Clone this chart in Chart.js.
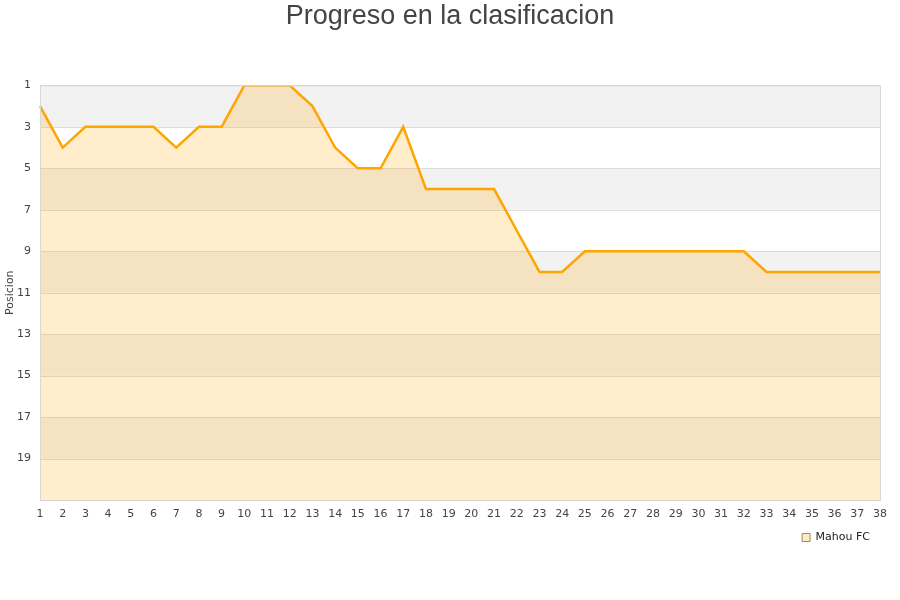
<!DOCTYPE html>
<html>
<head>
<meta charset="utf-8">
<script src="https://cdn.jsdelivr.net/npm/chart.js@4.4.1/dist/chart.umd.min.js"></script>
<style>
  html, body { margin: 0; padding: 0; background: #fff; }
  #wrap { width: 900px; height: 600px; }
</style>
</head>
<body>
<div id="wrap"><canvas id="chart"></canvas></div>
<script>
// jornadas
const jornadas = Array.from({ length: 38 }, (_, i) => String(i + 1));
// posicion por jornada
const posiciones = [2, 4, 3, 3, 3, 3, 4, 3, 3, 1, 1, 1, 2, 4, 5, 5, 3, 6, 6, 6,
                    6, 8, 10, 10, 9, 9, 9, 9, 9, 9, 9, 9, 10, 10, 10, 10, 10, 10];
const yTicks = [1, 3, 5, 7, 9, 11, 13, 15, 17, 19];
const equipo = 'Mahou FC';
const titulo = 'Progreso en la clasificacion';
const titleFont = { family: 'Liberation Sans, Arial, sans-serif', size: 27, weight: 'normal' };

// franjas alternas detras de los datos
const bandPlugin = {
    id: 'bands',
    beforeDatasetsDraw(chart) {
        const { ctx, chartArea: a, scales: { y } } = chart;
        ctx.save();
        for (let v = 1; v < 21; v += 4) {
            const top = y.getPixelForValue(v);
            const bot = y.getPixelForValue(v + 2);
            ctx.fillStyle = '#f2f2f2';
            ctx.fillRect(a.left, top, a.right - a.left, bot - top);
        }
        ctx.strokeStyle = '#dcdcdc';
        ctx.lineWidth = 1;
        ctx.beginPath();
        yTicks.forEach(v => {
            const p = Math.round(y.getPixelForValue(v)) + 0.5;
            ctx.moveTo(a.left, p);
            ctx.lineTo(a.right, p);
        });
        ctx.stroke();
        ctx.restore();
    },
    afterDatasetsDraw(chart) {
        const { ctx, chartArea: a } = chart;
        ctx.save();
        ctx.strokeStyle = '#d8d8d8';
        ctx.lineWidth = 1;
        ctx.strokeRect(a.left + 0.5, a.top + 0.5, a.right - a.left, a.bottom - a.top);
        ctx.restore();
    },
    // titulo centrado en todo el lienzo
    afterDraw(chart) {
        const { ctx, width } = chart;
        ctx.save();
        ctx.fillStyle = '#444';
        ctx.font = `${titleFont.weight} ${titleFont.size}px ${titleFont.family}`;
        ctx.textAlign = 'center';
        ctx.textBaseline = 'middle';
        ctx.fillText(titulo, width / 2, chart.titleBlock.top + titleFont.size * 0.6);
        ctx.restore();
    }
};

new Chart(document.getElementById('chart'), {
    type: 'line',
    data: {
        labels: jornadas,
        datasets: [{
            label: equipo,
            data: posiciones,
            borderColor: '#ffa500',
            backgroundColor: 'rgba(255,165,0,0.2)',
            borderWidth: 2.5,
            pointRadius: 0,
            tension: 0,
            fill: { value: 21 }
        }]
    },
    options: {
        responsive: true,
        maintainAspectRatio: false,
        animation: false,
        layout: { padding: { top: 0, right: 20, bottom: 47, left: 0 } },
        plugins: {
            title: {
                display: true,
                text: titulo,
                color: 'rgba(0,0,0,0)',
                font: titleFont,
                padding: { top: 0, bottom: 53 }
            },
            legend: {
                position: 'bottom',
                align: 'end',
                labels: {
                    color: '#222',
                    font: { family: 'DejaVu Sans', size: 11 },
                    boxWidth: 8,
                    boxHeight: 8,
                    padding: 10,
                    generateLabels: (chart) => [{
                        text: equipo,
                        fillStyle: '#fde9c4',
                        strokeStyle: '#9a8a70',
                        lineWidth: 1,
                        fontColor: '#222',
                        datasetIndex: 0
                    }]
                }
            },
            tooltip: { enabled: false }
        },
        scales: {
            x: {
                offset: false,
                grid: { display: false },
                border: { display: false },
                ticks: {
                    color: '#444',
                    font: { family: 'DejaVu Sans', size: 11 },
                    maxRotation: 0,
                    autoSkip: false,
                    padding: 0
                },
                afterFit: (s) => { s.height = 22; }
            },
            y: {
                reverse: true,
                min: 1,
                max: 21,
                grid: { display: false },
                border: { display: false },
                afterBuildTicks: (s) => { s.ticks = yTicks.map(v => ({ value: v })); },
                ticks: {
                    color: '#444',
                    font: { family: 'DejaVu Sans', size: 11 },
                    padding: 1
                },
                title: {
                    display: true,
                    text: 'Posicion',
                    color: '#444',
                    font: { family: 'DejaVu Sans', size: 11 },
                    padding: { top: 4, bottom: 0 }
                },
                afterFit: (s) => { s.width = 40; }
            }
        }
    },
    plugins: [bandPlugin]
});
</script>
</body>
</html>
